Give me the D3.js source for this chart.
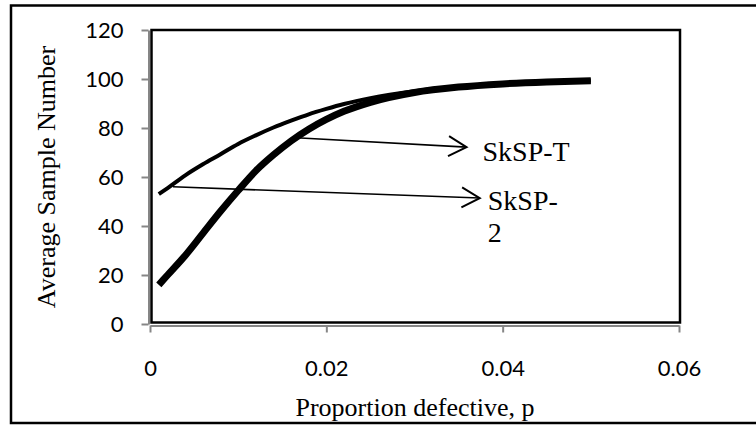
<!DOCTYPE html>
<html><head><meta charset="utf-8">
<script src="https://cdn.jsdelivr.net/npm/d3@7/dist/d3.min.js"></script>
<style>html,body{margin:0;padding:0;background:#fff;}svg{display:block;}</style>
</head><body>
<svg id="c" width="756" height="426"></svg>
<script>
// ---- data ----
const pValuesT = [0.001,0.002,0.004,0.006,0.008,0.010,0.012,0.014,0.016,0.018,0.020,0.022,0.025,0.030,0.035,0.040,0.045,0.050];
const asnSkSPT = [53,55.5,60.7,65.2,69.3,73.5,77,80.2,83,85.6,87.8,89.8,92.2,95,96.9,98.2,99,99.4];
const pValues2 = [0.001,0.002,0.004,0.006,0.008,0.010,0.012,0.014,0.016,0.018,0.020,0.022,0.025,0.030,0.035,0.040,0.045,0.050];
const asnSkSP2 = [16,20,28,37,46,54.5,62.5,69,74.7,79.5,83.5,86.8,90.5,94.5,96.7,98,98.8,99.3];
const xTicks = [0,0.02,0.04,0.06];
const yTicks = [0,20,40,60,80,100,120];
const xTickLabels = ["0","0.02","0.04","0.06"];
// annotation arrows: [from p, from asn, to p, to asn]
const arrowT = [0.0166,76,0.0359,72.2];
const arrow2 = [0.0026,56,0.0374,51.4];
const labelT = ["SkSP-T"];
const label2 = ["SkSP-","2"];

const svg = d3.select("#c");
const x = d3.scaleLinear().domain([0,0.06]).range([150,679]);
const y = d3.scaleLinear().domain([0,120]).range([324,30]);

// outer frame
svg.append("rect").attr("x",11).attr("y",5.5).attr("width",800).attr("height",417.5)
  .attr("fill","none").attr("stroke","#000").attr("stroke-width",2.5);

// plot frame
svg.append("rect").attr("x",x(0)+1.5).attr("y",y(120)).attr("width",x(0.06)-x(0)-0.5).attr("height",y(0)-y(120)-1.5)
  .attr("fill","#fff").attr("stroke","#000").attr("stroke-width",2.5);

// axes
const yAxis = svg.append("g").attr("transform","translate(148.5,0)")
  .call(d3.axisLeft(y).tickValues(yTicks).tickSize(7).tickSizeOuter(0).tickPadding(18).tickFormat(d3.format("d")));
const xAxis = svg.append("g").attr("transform","translate(0,325.5)")
  .call(d3.axisBottom(x).tickValues(xTicks).tickSize(7).tickSizeOuter(0).tickFormat((d,i)=>xTickLabels[i]));
[yAxis,xAxis].forEach(g=>{
  g.select(".domain").attr("stroke","#868686").attr("stroke-width",2);
  g.selectAll(".tick line").attr("stroke","#868686").attr("stroke-width",2);
  g.selectAll("text").attr("fill","#000").style("font-family","Lato, 'Open Sans', sans-serif").style("font-size","22px");
});
xAxis.selectAll(".tick text").attr("y",50).attr("dy","0");
yAxis.selectAll(".tick text").attr("dy","0.36em");

// curves
const line = d3.line().x(d=>x(d[0])).y(d=>y(d[1])).curve(d3.curveMonotoneX);
svg.append("path").datum(pValuesT.map((p,i)=>[p,asnSkSPT[i]]))
  .attr("d",line).attr("fill","none").attr("stroke","#000").attr("stroke-width",4);
svg.append("path").datum(pValues2.map((p,i)=>[p,asnSkSP2[i]]))
  .attr("d",line).attr("fill","none").attr("stroke","#000").attr("stroke-width",7);

// arrows
function arrow(a){
  const x1=x(a[0]),y1=y(a[1]),x2=x(a[2]),y2=y(a[3]);
  svg.append("line").attr("x1",x1).attr("y1",y1).attr("x2",x2).attr("y2",y2)
    .attr("stroke","#000").attr("stroke-width",1.6);
  const ang=Math.atan2(y2-y1,x2-x1);
  const L=18,W=10;
  const pts=[[-L,-W],[0,0],[-L,W]].map(([u,v])=>[x2+u*Math.cos(ang)-v*Math.sin(ang), y2+u*Math.sin(ang)+v*Math.cos(ang)]);
  svg.append("path").attr("d",d3.line()(pts)).attr("fill","none").attr("stroke","#000").attr("stroke-width",2);
}
arrow(arrowT); arrow(arrow2);

const serif = "'Liberation Serif','Times New Roman',serif";
svg.append("text").attr("x",x(arrowT[2])+16).attr("y",y(arrowT[3])+14).text(labelT[0])
  .style("font-family",serif).style("font-size","28px");
label2.forEach((t,i)=>{
  svg.append("text").attr("x",x(arrow2[2])+8).attr("y",y(arrow2[3])+12+i*32).text(t)
    .style("font-family",serif).style("font-size","28px");
});

// axis titles
svg.append("text").attr("transform","translate(55,177) rotate(-90)").attr("text-anchor","middle")
  .text("Average Sample Number").style("font-family",serif).style("font-size","26px");
svg.append("text").attr("x",415).attr("y",416).attr("text-anchor","middle")
  .text("Proportion defective, p").style("font-family",serif).style("font-size","26px");
</script>
</body></html>
